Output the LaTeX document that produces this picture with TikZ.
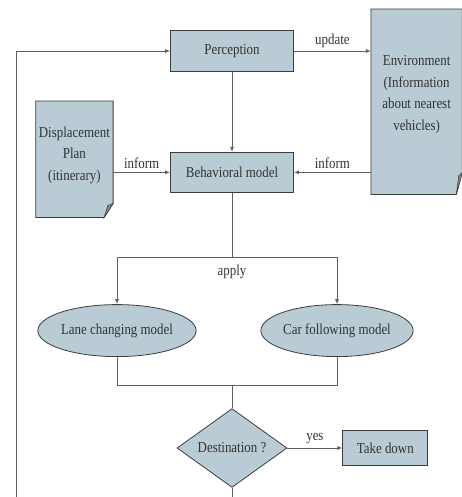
\documentclass[tikz,border=0pt]{standalone}
\usepackage{fontspec}
\setmainfont{Liberation Serif}[FakeStretch=0.85]
\usetikzlibrary{arrows.meta,positioning,shapes.geometric,backgrounds}
\definecolor{boxfill}{RGB}{185,203,212}
\definecolor{boxline}{RGB}{60,60,60}
\definecolor{foldgray}{RGB}{125,135,140}
\definecolor{wire}{RGB}{95,95,95}

\begin{document}
\begin{tikzpicture}[x=1pt,y=1pt,
      node distance=20pt,
      font=\fontsize{15.2}{21.5}\selectfont,
      blk/.style={draw=boxline,line width=0.8pt,fill=boxfill,text=black!80,inner sep=0pt,
                  minimum width=123pt,minimum height=41pt},
      docbox/.style={text=black!80,inner sep=0pt,align=center},
      oval/.style={ellipse,draw=boxline,line width=0.8pt,fill=boxfill,text=black!80,inner sep=0pt,
                  minimum width=144pt,minimum height=52pt},
      decide/.style={diamond,draw=boxline,line width=0.8pt,fill=boxfill,text=black!80,inner sep=0pt,
                  minimum width=110pt,minimum height=57pt},
      lbl/.style={text=black!80},
      ar/.style={-{Latex[length=5pt,width=4pt]},draw=wire,line width=0.8pt},
      ln/.style={draw=wire,line width=0.8pt}
    ]
    \useasboundingbox (0,0) rectangle (462,-497);

    \node[blk] (perc) at (232,-51) {Perception};
    \node[blk,minimum height=40pt,below=80pt of perc] (beh) {Behavioral model};
    \node[docbox,minimum width=77pt,minimum height=108pt,left=57pt of beh,yshift=17pt] (plan)
         {Displacement\\Plan\\(itinerary)};
    \node[docbox,minimum width=91pt,minimum height=171pt,right=77pt of beh,yshift=77.5pt] (env)
         {Environment\\(Information\\about nearest\\vehicles)};

    % document outlines with folded corner
    \begin{scope}[on background layer]
      \foreach \d/\ex/\cx/\cy in {plan/8/9/14,env/14/6/22}{
        \filldraw[draw=boxline,line width=0.8pt,fill=boxfill]
          (\d.north west) -- (\d.north east)
          -- ([shift={(0,\cy-\ex)}]\d.south east)
          -- ([shift={(-\cx,-\ex)}]\d.south east)
          -- ([shift={(0,-\ex)}]\d.south west) -- cycle;
        \filldraw[draw=boxline,line width=0.5pt,fill=foldgray]
          ([shift={(-\cx,-\ex)}]\d.south east)
          -- ([shift={(0,\cy-\ex)}]\d.south east)
          -- ([shift={(-0.6*\cx,0.85*\cy-\ex)}]\d.south east) -- cycle;
      }
    \end{scope}

    \node[oval,below=111.5pt of beh,xshift=-115pt] (lane) {Lane changing model};
    \node[oval,below=111.5pt of beh,xshift=105pt] (car) {Car following model};
    \node[decide,below=215.5pt of beh] (dest) {Destination ?};
    \node[blk,minimum width=85pt,minimum height=35pt,right=55pt of dest] (take) {Take down};

    \coordinate (split) at ([yshift=-65pt]beh.south);
    \coordinate (merge) at ([yshift=23pt]dest.north);
    \coordinate (bot) at ([yshift=-33pt]dest.south);
    \coordinate (fb) at (16,-497);

    \draw[ar] (perc) -- (perc -| env.west) node[midway,above,lbl] {update};
    \draw[ar] (perc) -- (beh);
    \draw[ar] (beh -| plan.east) -- (beh) node[midway,above,lbl] {inform};
    \draw[ar] (beh -| env.west) -- (beh) node[midway,above,lbl] {inform};

    \draw[ln] (beh) -- (split);
    \draw[ar] (split) -| (lane.north);
    \draw[ar] (split) -| (car.north);
    \node[lbl,below=4pt of split] (apply) {apply};

    \draw[ln] (lane.south) |- (merge) -| (car.south);
    \draw[ln] (merge) -- (dest);
    \draw[ar] (dest) -- (take) node[midway,above,lbl] {yes};
    \draw[ln] (dest) -- (bot);
    \draw[ar] (fb) |- (perc);
  \end{tikzpicture}
\end{document}
